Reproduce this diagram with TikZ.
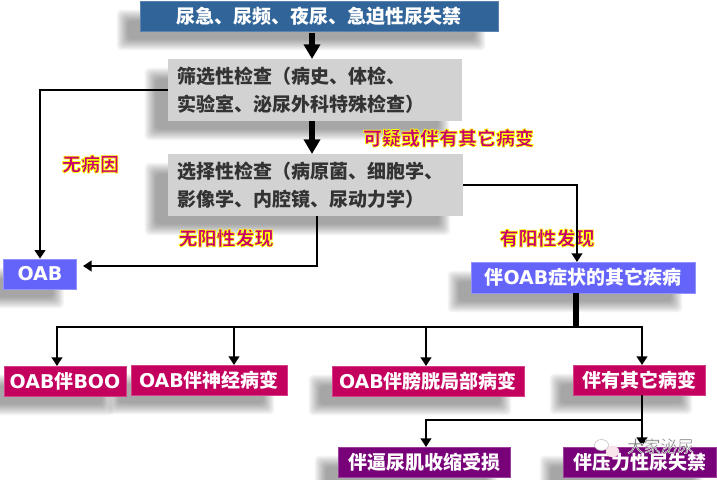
\documentclass[tikz,border=0pt]{standalone}
\usepackage{fontspec}
\usepackage{color}
\setmainfont{Noto Sans CJK SC}
\newfontfamily\latinfont{DejaVu Sans}
\usetikzlibrary{calc}
\usetikzlibrary{arrows.meta}
\definecolor{topblue}{HTML}{31659A}
\definecolor{examgray}{HTML}{D2D2D2}
\definecolor{resultblue}{HTML}{6464FA}
\definecolor{crimsonbox}{HTML}{C4005F}
\definecolor{purplebox}{HTML}{780078}
\definecolor{labelpink}{HTML}{C8006E}
\newcommand{\lat}[1]{{\latinfont\bfseries #1}}
\newcommand{\glow}[1]{\special{pdf:code q 2 Tr 0.55 w 1 1 0 RG}#1\special{pdf:code Q}}
\newcommand{\halo}[1]{\special{pdf:code q 2 Tr 0.25 w 1 1 1 RG}#1\special{pdf:code Q}}
\pgfdeclarelayer{shadowlayer}
\pgfsetlayers{shadowlayer,main}
\tikzset{
  boxsize/.style 2 args={minimum width=#1*0.75pt, minimum height=#2*0.75pt},
  plainbox/.style={inner sep=0pt, font=\fontsize{14.25}{21}\selectfont\bfseries, text=white},
  topbox/.style={plainbox, fill=topblue, draw=topblue!80!white, line width=.5pt},
  exambox/.style={plainbox, fill=examgray, text=black!80, align=left},
  bluebox/.style={plainbox, fill=resultblue, draw=resultblue!70!white, line width=.5pt},
  crimson/.style={plainbox, fill=crimsonbox, draw=crimsonbox!75!white, line width=.5pt},
  purple/.style={plainbox, fill=purplebox, draw=purplebox!75!white, line width=.5pt},
  tag/.style={inner sep=0pt, font=\fontsize{14.25}{21}\selectfont\bfseries, text=labelpink},
  thinarrow/.style={line width=2.2pt, -{Triangle[width=8pt,length=6.5pt]}},
  fatarrow/.style={line width=3.8pt, -{Triangle[width=12pt,length=11pt]}},
}
\begin{document}
\begin{tikzpicture}[x=0.75pt,y=-0.75pt,line cap=butt]
  \useasboundingbox (0,0) rectangle (717,479);
  \clip (0,0) rectangle (717,479);

  %% boxes
  \node[topbox, boxsize={358}{30}] (symptom) at (319,16) {尿急、尿频、夜尿、急迫性尿失禁};
  \node[exambox, boxsize={294}{62}, text width=276*0.75pt] (screen) at (315,90)
    {筛选性检查（病史、体检、\\实验室、泌尿外科特殊检查）};
  \node[exambox, boxsize={295}{62}, text width=276*0.75pt] (select) at (315.5,185)
    {选择性检查（病原菌、细胞学、\\影像学、内腔镜、尿动力学）};
  \node[bluebox, boxsize={73}{30}] (oab) at (40,274) {\lat{OAB}};
  \node[bluebox, boxsize={224}{31}] (other) at (583,277.5) {伴\lat{OAB}症状的其它疾病\hspace{7.5pt}};
  \node[crimson, boxsize={122}{30}] (boo) at (65,381) {\lat{OAB}伴\lat{BOO}};
  \node[crimson, boxsize={156}{30}] (neuro) at (209,380) {\lat{OAB}伴神经病变};
  \node[crimson, boxsize={192}{30}] (local) at (428,381) {\lat{OAB}伴膀胱局部病变};
  \node[crimson, boxsize={132}{30}] (rest) at (639,380) {伴有其它病变};
  \node[purple, boxsize={172}{30}] (weak) at (424,462) {伴逼尿肌收缩受损};
  \node[purple, boxsize={153}{30}] (stress) at (639.5,462) {伴压力性尿失禁};

  %% soft shadows
  \begin{pgfonlayer}{shadowlayer}
    \foreach \n in {symptom,screen,select,oab,other,boo,neuro,local,rest,weak,stress}
    \foreach \b in {-6,-5,...,5}  % blur
    \fill[black, opacity=0.037, rounded corners=3pt]
      ($(\n.north west)+(-18-\b,14-\b)$) rectangle ($(\n.south east)+(-18+\b,14+\b)$);
  \end{pgfonlayer}

  %% labels
  \node[tag] (nocause) at (90.5,164) {\glow{无病因}};
  \node[tag] (suspect) at (448.5,138) {\glow{可疑或伴有其它病变}};
  \node[tag] (negative) at (226,238) {\glow{无阳性发现}};
  \node[tag] (positive) at (547,238) {\glow{有阳性发现}};

  %% fixed ends
  \coordinate (symout) at (312,33);
  \coordinate (scrin) at (312,59);
  \coordinate (scrout) at (312,121);
  \coordinate (selin) at (312,154);
  \coordinate (selout) at (317,216);
  \coordinate (oabin) at (83,266);
  \coordinate (otherin) at (577,262);
  \coordinate (otherout) at (576,293);
  \coordinate (bus) at (576,327);
  \coordinate (booin) at (57,366);
  \coordinate (neuroin) at (234,365);
  \coordinate (localin) at (426,366);
  \coordinate (restin) at (642,365);
  \coordinate (restout) at (642,395);
  \coordinate (fork) at (642,420);
  \coordinate (weakin) at (426,447);
  \coordinate (stressin) at (642,446);

  %% connectors
  \draw[fatarrow] (symout) -- (scrin);
  \draw[fatarrow] (scrout) -- (selin);
  \draw[thinarrow] (screen.west) -| (oab.north);
  \draw[thinarrow] (selout) |- (oabin);
  \draw[thinarrow] (select.east) -| (otherin);
  \draw[line width=4.5pt] (otherout) -- (bus);
  \draw[thinarrow] (bus) -| (booin);
  \draw[thinarrow] (bus) -| (neuroin);
  \draw[thinarrow] (bus) -| (localin);
  \draw[thinarrow] (bus) -| (restin);
  \draw[thinarrow] (restout) -- (stressin);
  \draw[thinarrow] (fork) -| (weakin);

  %% watermark
  \fill[white, draw=black!25, line width=.4pt] (601.5,445) ellipse (7 and 5.5);
  \fill[purple!10!white, draw=purple!15!white, line width=.4pt] (612.5,451.5) ellipse (6.5 and 5.5);
  \node[inner sep=0pt, font=\fontsize{12.5}{15}\selectfont, text=black!55] (mark) at (660.5,446) {\halo{大家泌尿}};
\end{tikzpicture}
\end{document}
